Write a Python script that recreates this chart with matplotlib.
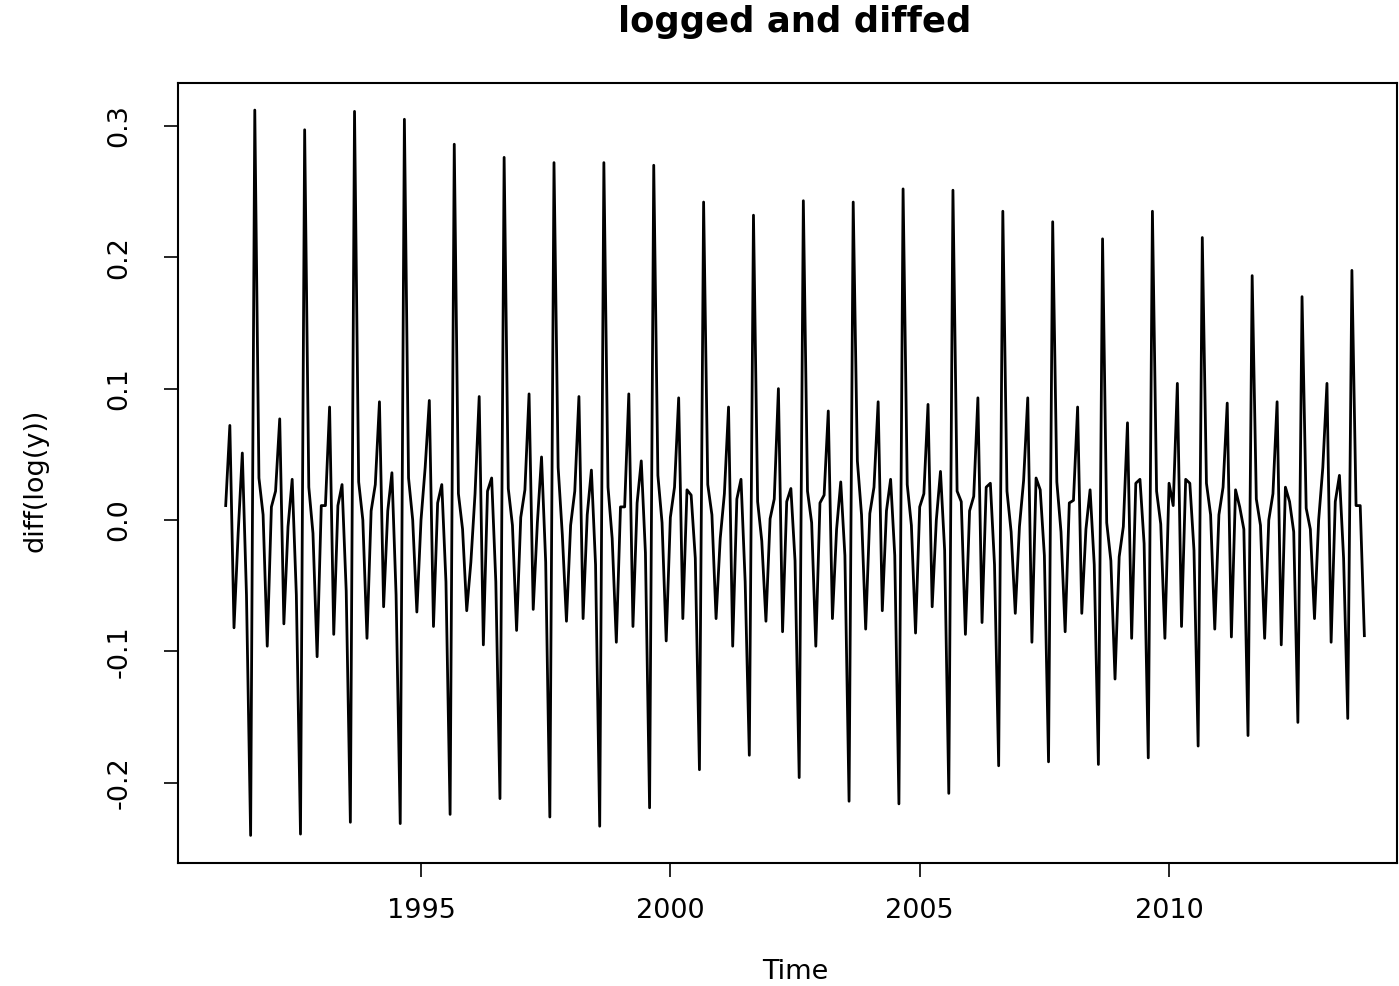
import numpy as np
import matplotlib
matplotlib.use("Agg")
import matplotlib.pyplot as plt

# Monthly diff(log(y)), Feb 1991 .. Dec 2013
start_year = 1991
start_month = 2  # February
values_1991 = [0.011, 0.072, -0.082, -0.010, 0.051, -0.057, -0.240, 0.312, 0.032, 0.004, -0.096]
values_1992 = [0.010, 0.022, 0.077, -0.079, -0.005, 0.031, -0.057, -0.239, 0.297, 0.025, -0.010, -0.104]
values_1993 = [0.011, 0.011, 0.086, -0.087, 0.011, 0.027, -0.054, -0.230, 0.311, 0.029, 0.000, -0.090]
values_1994 = [0.007, 0.027, 0.090, -0.066, 0.007, 0.036, -0.057, -0.231, 0.305, 0.032, 0.000, -0.070]
values_1995 = [0.000, 0.040, 0.091, -0.081, 0.013, 0.027, -0.047, -0.224, 0.286, 0.020, -0.007, -0.069]
values_1996 = [-0.032, 0.020, 0.094, -0.095, 0.022, 0.032, -0.047, -0.212, 0.276, 0.024, -0.004, -0.084]
values_1997 = [0.002, 0.023, 0.096, -0.068, -0.002, 0.048, -0.032, -0.226, 0.272, 0.040, -0.011, -0.077]
values_1998 = [-0.004, 0.022, 0.094, -0.075, 0.004, 0.038, -0.034, -0.233, 0.272, 0.025, -0.014, -0.093]
values_1999 = [0.010, 0.010, 0.096, -0.081, 0.013, 0.045, -0.025, -0.219, 0.270, 0.034, -0.002, -0.092]
values_2000 = [0.002, 0.025, 0.093, -0.075, 0.023, 0.019, -0.029, -0.190, 0.242, 0.027, 0.004, -0.075]
values_2001 = [-0.014, 0.020, 0.086, -0.096, 0.016, 0.031, -0.047, -0.179, 0.232, 0.014, -0.016, -0.077]
values_2002 = [0.001, 0.016, 0.100, -0.085, 0.014, 0.024, -0.031, -0.196, 0.243, 0.022, -0.002, -0.096]
values_2003 = [0.013, 0.019, 0.083, -0.075, -0.007, 0.029, -0.027, -0.214, 0.242, 0.045, 0.004, -0.083]
values_2004 = [0.005, 0.025, 0.090, -0.069, 0.007, 0.031, -0.027, -0.216, 0.252, 0.027, -0.004, -0.086]
values_2005 = [0.010, 0.020, 0.088, -0.066, 0.000, 0.037, -0.023, -0.208, 0.251, 0.022, 0.014, -0.087]
values_2006 = [0.007, 0.018, 0.093, -0.078, 0.025, 0.028, -0.034, -0.187, 0.235, 0.022, -0.009, -0.071]
values_2007 = [-0.005, 0.030, 0.093, -0.093, 0.032, 0.023, -0.027, -0.184, 0.227, 0.029, -0.009, -0.085]
values_2008 = [0.013, 0.015, 0.086, -0.071, -0.007, 0.023, -0.034, -0.186, 0.214, -0.002, -0.031, -0.121]
values_2009 = [-0.028, -0.005, 0.074, -0.090, 0.028, 0.031, -0.018, -0.181, 0.235, 0.022, -0.003, -0.090]
values_2010 = [0.028, 0.011, 0.104, -0.081, 0.031, 0.028, -0.023, -0.172, 0.215, 0.028, 0.004, -0.083]
values_2011 = [0.004, 0.025, 0.089, -0.089, 0.023, 0.010, -0.007, -0.164, 0.186, 0.016, -0.004, -0.090]
values_2012 = [0.000, 0.020, 0.090, -0.095, 0.025, 0.014, -0.009, -0.154, 0.170, 0.009, -0.007, -0.075]
values_2013 = [0.000, 0.040, 0.104, -0.093, 0.014, 0.034, -0.029, -0.151, 0.190, 0.011, 0.011, -0.088]

series = (values_1991 + values_1992 + values_1993 + values_1994 + values_1995 +
          values_1996 + values_1997 + values_1998 + values_1999 + values_2000 +
          values_2001 + values_2002 + values_2003 + values_2004 + values_2005 +
          values_2006 + values_2007 + values_2008 + values_2009 + values_2010 +
          values_2011 + values_2012 + values_2013)
y = np.array(series)
t = start_year + (start_month - 1) / 12 + np.arange(len(y)) / 12

x_ticks = [1995, 2000, 2005, 2010]
y_ticks = [-0.2, -0.1, 0.0, 0.1, 0.2, 0.3]
y_tick_labels = ["-0.2", "-0.1", "0.0", "0.1", "0.2", "0.3"]

plt.rcParams['font.family'] = ['DejaVu Sans']

fig = plt.figure(figsize=(13.99, 9.86), dpi=100)
ax = fig.add_axes([178/1399, 1 - 863/986, (1397-178)/1399, (863-83)/986])
ax.plot(t, y, color='black', linewidth=2.0)

ax.set_xlim(1990.127, 2014.571)
ax.set_ylim(-0.261, 0.3326)

ax.set_xticks(x_ticks)
ax.set_xticklabels([str(v) for v in x_ticks])
ax.set_yticks(y_ticks)
ax.set_yticklabels(y_tick_labels, rotation=90, va='center')
ax.tick_params(axis='both', direction='out', length=10, width=1.2, labelsize=19.5, color='black')
ax.tick_params(axis='x', pad=15)
ax.tick_params(axis='y', pad=23)
for s in ax.spines.values():
    s.set_linewidth(1.5)

fig.text(795/1399, 1 - 22/986, "logged and diffed", ha='center', va='center',
         fontsize=25.5, fontweight='bold')
fig.text(795/1399, 1 - 972/986, "Time", ha='center', va='center', fontsize=19.5)
fig.text(35/1399, 1 - 480/986, "diff(log(y))", ha='center', va='center', rotation=90, fontsize=19.5)

fig.savefig("out.png", dpi=100)
